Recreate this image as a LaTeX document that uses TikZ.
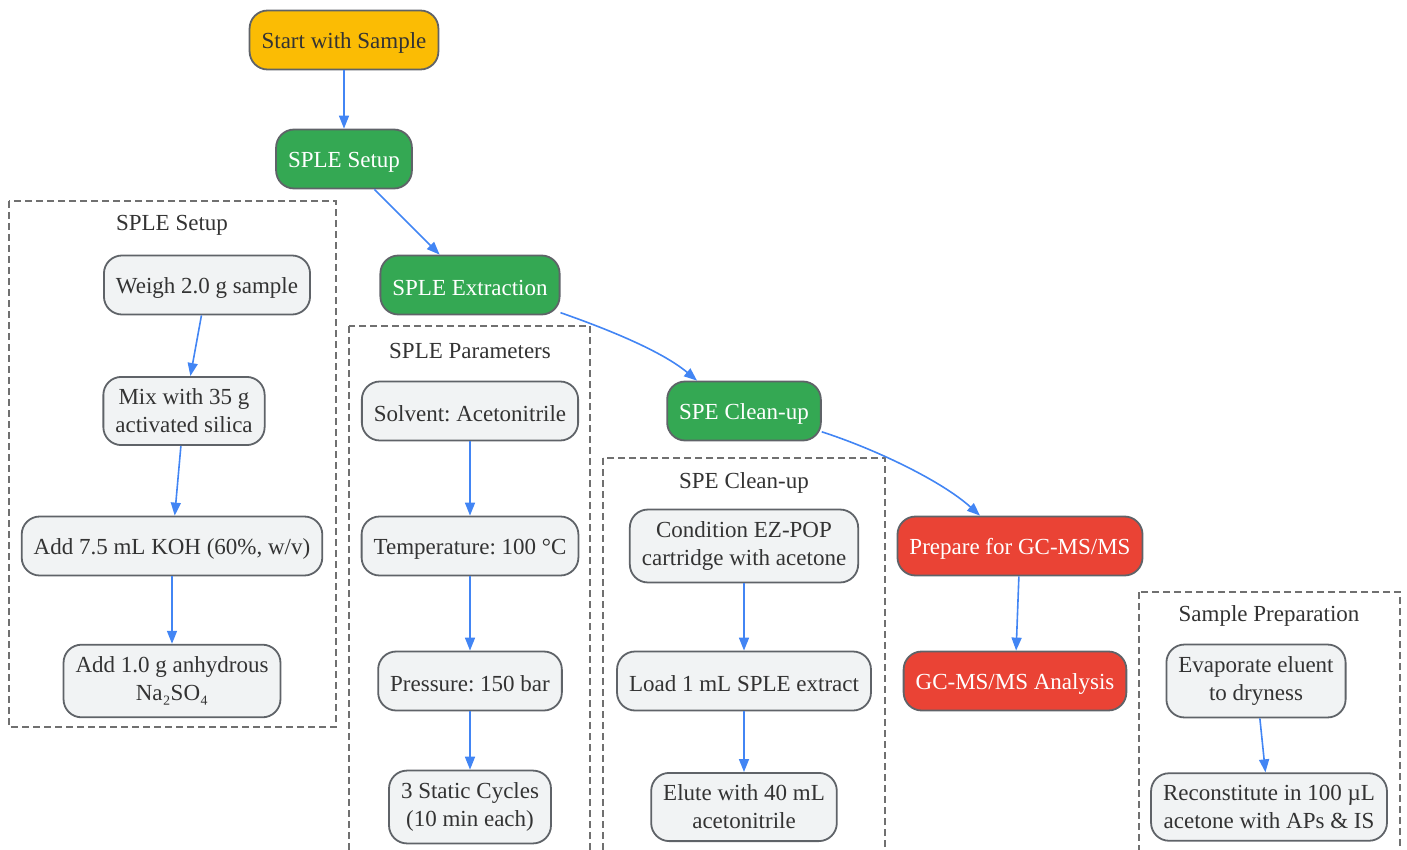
\documentclass[tikz,border=0pt]{standalone}
\usepackage{fontspec}
\setmainfont{Liberation Serif}
\frenchspacing
\usetikzlibrary{arrows.meta,calc}
\definecolor{corAmarelo}{HTML}{FBBC04}
\definecolor{corVerde}{HTML}{34A853}
\definecolor{corVermelho}{HTML}{EA4335}
\definecolor{corCinza}{HTML}{F1F3F4}
\definecolor{corBorda}{HTML}{5F6368}
\definecolor{corSeta}{HTML}{4285F4}
\definecolor{corTexto}{HTML}{333333}
\definecolor{corGrupo}{HTML}{707070}
\begin{document}
\begin{tikzpicture}[
  x=1pt, y=-1pt,
  every node/.style={font=\fontsize{23}{28}\selectfont, text=corTexto,
    execute at begin node={\rule{0pt}{22pt}}},
  caixa/.style={draw=corBorda, line width=1.8pt, rounded corners=18pt, minimum height=59pt,
    inner xsep=12pt, inner ysep=12pt, align=center},
  seta/.style={draw=corSeta, line width=1.6pt, -{Triangle[length=13pt,width=10pt]}},
  grupo/.style={draw=corGrupo, line width=1.5pt, dash pattern=on 7pt off 4pt}
]
\tikzset{
  amarelo/.style={caixa, fill=corAmarelo},
  verde/.style={caixa, fill=corVerde, text=white},
  vermelho/.style={caixa, fill=corVermelho, text=white},
  cinza/.style={caixa, fill=corCinza}
}
\useasboundingbox (0,0) rectangle (1407,850);
\clip (0,0) rectangle (1407,850);

% grupos tracejados
\draw[grupo] (9,201) rectangle (336,727);
\node (tSetup) at (172,222) {SPLE Setup};
\draw[grupo] (349,326) rectangle (590,880);
\node (tParam) at (470,348) {SPLE Parameters};
\draw[grupo] (603,458) rectangle (885,880);
\node (tLimpeza) at (744,480) {SPE Clean-up};
\draw[grupo] (1139,592) rectangle (1400,880);
\node (tPreparo) at (1269,613) {Sample Preparation};

% fluxo principal
\node[amarelo] (inicio) at (344,40) {Start with Sample};
\node[verde] (setup) at (344,159) {SPLE Setup};
\node[verde] (extracao) at (470,285) {SPLE Extraction};
\node[verde] (limpeza) at (744,411) {SPE Clean-up};
\node[vermelho] (preparo) at (1020,546) {Prepare for GC-MS/MS};
\node[vermelho] (analise) at (1015,681) {GC-MS/MS Analysis};

\node[cinza] (pesar) at (207,285) {Weigh 2.0 g sample};
\node[cinza] (misturar) at (184,411) {Mix with 35 g\\activated silica};
\node[cinza] (koh) at (172,546) {Add 7.5 mL KOH (60\%, w/v)};
\node[cinza] (sulfato) at (172,681) {Add 1.0 g anhydrous\\Na₂SO₄};

\node[cinza] (solvente) at (470,411) {Solvent: Acetonitrile};
\node[cinza] (temp) at (470,546) {Temperature: 100 °C};
\node[cinza] (pressao) at (470,681) {Pressure: 150 bar};
\node[cinza] (ciclos) at (470,807) {3 Static Cycles\\(10 min each)};

\node[cinza] (condicionar) at (744,546) {Condition EZ-POP\\cartridge with acetone};
\node[cinza] (carregar) at (744,681) {Load 1 mL SPLE extract};
\node[cinza] (eluir) at (744,807) {Elute with 40 mL\\acetonitrile};

\node[cinza] (evaporar) at (1256,681) {Evaporate eluent\\to dryness};
\node[cinza] (reconstituir) at (1269,807) {Reconstitute in 100 µL\\acetone with APs \& IS};

\draw[seta] (inicio) -- (setup);
\draw[seta] (setup) -- (extracao);
\draw[seta] (extracao.-17) .. controls +(40,14) and +(-37,-31) .. ($(limpeza.north)+(-47,0)$);
\draw[seta] (limpeza.-15) .. controls +(50,16) and +(-40,-36) .. ($(preparo.north)+(-40,0)$);
\draw[seta] (preparo) -- (analise);

\draw[seta] (pesar) -- (misturar);
\draw[seta] (misturar) -- (koh);
\draw[seta] (koh) -- (sulfato);

\draw[seta] (solvente) -- (temp);
\draw[seta] (temp) -- (pressao);
\draw[seta] (pressao) -- (ciclos);

\draw[seta] (condicionar) -- (carregar);
\draw[seta] (carregar) -- (eluir);

\draw[seta] (evaporar) -- (reconstituir);
\end{tikzpicture}
\end{document}
